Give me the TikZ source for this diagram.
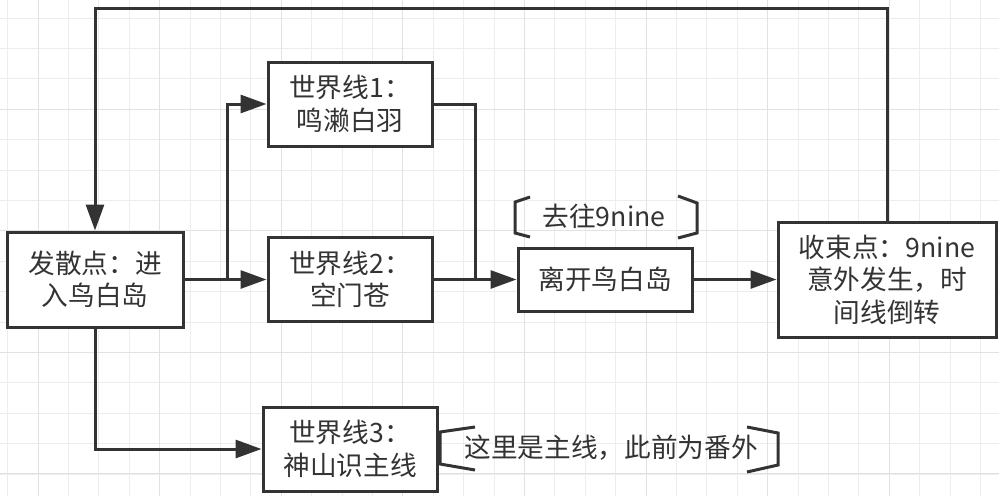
\documentclass[tikz,border=0pt]{standalone}
\usepackage{fontspec}
\setmainfont{Noto Sans CJK SC}
\usetikzlibrary{arrows.meta}
\definecolor{ink}{HTML}{333333}
\definecolor{gminor}{HTML}{EDEDED}
\definecolor{gmajor}{HTML}{E2E2E2}
\tikzset{
  box/.style={draw=ink, line width=2.25pt, fill=white, text=ink, align=center,
    inner sep=0pt, font=\fontsize{20pt}{24.4pt}\selectfont},
  conn/.style={draw=ink, line width=2.25pt},
  arr/.style={conn, -{Triangle[length=19.5pt,width=13.5pt]}},
  brk/.style={draw=ink, line width=2.25pt, line join=miter},
  note/.style={text=ink, inner sep=0pt, font=\fontsize{20pt}{24.4pt}\selectfont},
}
\begin{document}
\begin{tikzpicture}[x=0.75pt,y=-0.75pt]
\useasboundingbox (0,0) rectangle (999,496);
\fill[white] (0,0) rectangle (999,496);
% grid
\foreach \i in {0,...,32} {\draw[gminor, line width=0.75pt] ({7.6+30.4*\i},0) -- ({7.6+30.4*\i},496);}
\foreach \i in {0,...,16} {\draw[gminor, line width=0.75pt] (0,{18+30.4*\i}) -- (999,{18+30.4*\i});}
\foreach \i in {0,...,8} {\draw[gmajor, line width=0.75pt] ({38+121.6*\i},0) -- ({38+121.6*\i},496);}
\foreach \i in {0,...,4} {\draw[gmajor, line width=0.75pt] (0,{-12.6+121.6*\i}) -- (999,{-12.6+121.6*\i});}

% boxes
\node[box, minimum width=176*0.75pt, minimum height=95*0.75pt] (A) at (95,279.5) {发散点：进\\入鸟白岛};
\node[box, minimum width=164*0.75pt, minimum height=84*0.75pt] (W1) at (350,104) {世界线1：\\鸣濑白羽};
\node[box, minimum width=164*0.75pt, minimum height=84*0.75pt] (W2) at (350,279.5) {世界线2：\\空门苍};
\node[box, minimum width=174*0.75pt, minimum height=84*0.75pt] (W3) at (350,449) {世界线3：\\神山识主线};
\node[box, minimum width=174*0.75pt, minimum height=63*0.75pt] (L) at (605,279.5) {离开鸟白岛};
\node[box, minimum width=218*0.75pt, minimum height=115*0.75pt] (S) at (887,279.5) {收束点：9nine\\意外发生，时\\间线倒转};

% connectors
\coordinate (top) at (0,8);
\coordinate (br) at (227,279.5);
\coordinate (mg) at (475,279.5);
\draw[arr] (S.north) -- (S.north |- top) -| (A.north);
\draw[arr] (A.east) -- (W2.west);
\draw[arr] (br) |- (W1.west);
\draw[arr] (A.south) |- (W3.west);
\draw[conn] (W1.east) -| (mg);
\draw[arr] (W2.east) -- (L.west);
\draw[arr] (L.east) -- (S.west);

% annotations
\node[note] (n1) at (604,216) {去往9nine};
\draw[brk] (530,197) -- (515,202) -- (515,233) -- (530,237);
\draw[brk] (678,196) -- (697,203) -- (697,233) -- (678,238);
\node[note] (n2) at (611,448) {这里是主线，此前为番外};
\draw[brk] (475,427) -- (440,432) -- (440,464) -- (475,470);
\draw[brk] (747,427) -- (778,433) -- (778,465) -- (747,472);
\end{tikzpicture}
\end{document}
